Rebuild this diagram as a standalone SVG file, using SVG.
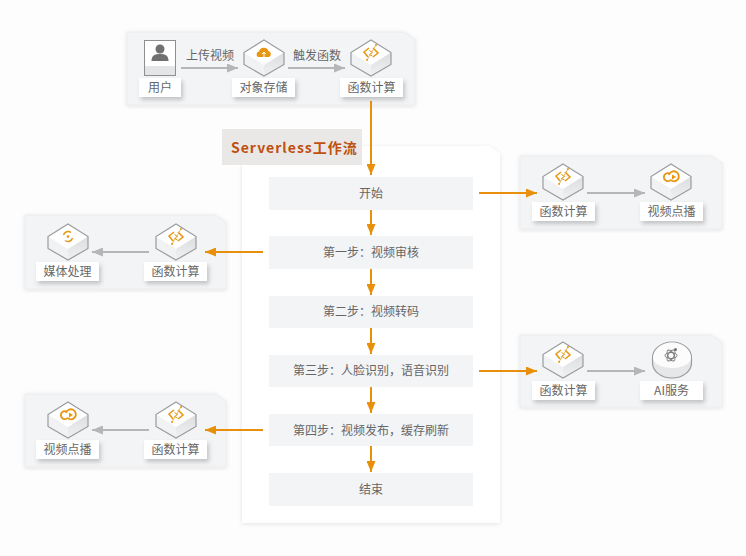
<svg xmlns="http://www.w3.org/2000/svg" xmlns:xlink="http://www.w3.org/1999/xlink" width="746" height="556" viewBox="0 0 746 556">
<style>
text{font-family:"Noto Sans CJK SC","Liberation Sans",sans-serif;font-size:12px;fill:#666;text-anchor:middle}
.panel{fill:#f3f4f6;stroke:#ebecee;stroke-width:1;filter:url(#soft)}
.lab{fill:#fff;filter:url(#sh)}
.step{fill:#f3f4f6}
.gl{stroke:#b4b6b8;stroke-width:2;fill:none;marker-end:url(#ga)}
.ol{stroke:#e8900c;stroke-width:2;fill:none;marker-end:url(#oa)}
.ic{fill:none;stroke:#e8950f;stroke-width:1.500}
.title{font-size:14px;font-weight:700;fill:#c0500f;letter-spacing:1px;text-anchor:start}
</style>
<defs>
<filter id="sh" x="-20%" y="-30%" width="150%" height="190%"><feDropShadow dx="2" dy="3" stdDeviation="2" flood-color="#000" flood-opacity=".2"/></filter>
<filter id="soft" x="-5%" y="-5%" width="110%" height="110%"><feDropShadow dx="0" dy="1" stdDeviation="2" flood-color="#000" flood-opacity=".1"/></filter>
<marker id="ga" markerUnits="userSpaceOnUse" markerWidth="12" markerHeight="9" refX="11" refY="4.500" orient="auto"><path d="M0 0L11 4.500L0 9Z" fill="#b4b6b8"/></marker>
<marker id="oa" markerUnits="userSpaceOnUse" markerWidth="12" markerHeight="9" refX="11" refY="4.500" orient="auto"><path d="M0 0L11 4.500L0 9Z" fill="#e8900c"/></marker>
<linearGradient id="sd" x1="0" y1="0" x2="0" y2="1"><stop offset="0" stop-color="#dcdddf"/><stop offset="1" stop-color="#f0f1f2"/></linearGradient>
<g id="hex">
<path d="M0 0L20 12.500V24.500L0 36L-20 24.500V12.500Z" fill="#fff"/>
<path d="M-20 12.500L0 25V36L-20 24.500Z" fill="#f1f2f3"/>
<path d="M20 12.500L0 25V36L20 24.500Z" fill="url(#sd)"/>
<path d="M0 0L20 12.500V24.500L0 36L-20 24.500V12.500Z" fill="none" stroke="#999b9d" stroke-width="1.200"/>
</g>
<g id="fn" class="ic">
<path d="M-2 8L-7 12L-3 17M2 8L7 13L2 17"/>
<path d="M-1.500 10.500L1.500 12.500L-1.500 14.500L1.500 16" stroke-width="1"/>
<path d="M-4 20L5 5" stroke="#e5b45c" stroke-width="1"/>
<circle cx="5" cy="5" r="1" fill="#e8950f" stroke="none"/>
<circle cx="-4" cy="20" r="1" fill="#e8950f" stroke="none"/>
</g>
<g id="vod" class="ic">
<path d="M-1.500 9.500A4 4 0 1 0 -1 16.500" stroke-width="1.800"/>
<path d="M-2 11A5 5 0 1 1 -1 15.500" stroke-width="1.800"/>
<path d="M1 10.500L5 13L1 15.500Z" fill="#e8950f" stroke="none"/>
</g>
</defs>
<rect width="746" height="556" fill="#fdfdfd"/>

<g id="panel-upload"><path class="panel" d="M127 32H404L415 39V105H127Z"/></g>
<g id="panel-vod-right"><path class="panel" d="M520 156H711L722 163V229H520Z"/></g>
<g id="panel-media"><path class="panel" d="M25 215H215L226 222V289H25Z"/></g>
<g id="panel-ai"><path class="panel" d="M520 335H711L722 342V407H520Z"/></g>
<g id="panel-vod-left"><path class="panel" d="M25 394H215L226 401V467H25Z"/></g>

<g id="workflow">
<path d="M242 146H489L500 153V523H242Z" fill="#fff" filter="url(#soft)"/>
<rect x="222" y="129" width="140" height="36" fill="#e9e8e6"/>
<text class="title" x="231" y="153">Serverless工作流</text>
</g>
<g id="step-start"><rect class="step" x="269" y="177" width="204" height="33"/><text x="371" y="197.500">开始</text></g>
<g id="step-1"><rect class="step" x="269" y="236" width="204" height="33"/><text x="371" y="256.500">第一步：视频审核</text></g>
<g id="step-2"><rect class="step" x="269" y="296" width="204" height="32"/><text x="371" y="316">第二步：视频转码</text></g>
<g id="step-3"><rect class="step" x="269" y="355" width="204" height="32"/><text x="371" y="375">第三步：人脸识别，语音识别</text></g>
<g id="step-4"><rect class="step" x="269" y="414" width="204" height="32"/><text x="371" y="434.500">第四步：视频发布，缓存刷新</text></g>
<g id="step-end"><rect class="step" x="269" y="473" width="204" height="33"/><text x="371" y="494">结束</text></g>

<g id="connectors">
<path class="gl" d="M181 68H238"/>
<path class="gl" d="M288 68H345"/>
<path class="ol" d="M371 101V175"/>
<path class="ol" d="M371 210V235"/>
<path class="ol" d="M371 269V295"/>
<path class="ol" d="M371 328V354"/>
<path class="ol" d="M371 387V413"/>
<path class="ol" d="M371 446V472"/>
<path class="ol" d="M479 193H537"/>
<path class="gl" d="M587 193H645"/>
<path class="ol" d="M479 371H537"/>
<path class="gl" d="M587 371H645"/>
<path class="ol" d="M263 252H205"/>
<path class="gl" d="M149 252H92"/>
<path class="ol" d="M263 430H205"/>
<path class="gl" d="M149 430H92"/>
</g>
<text x="210" y="60">上传视频</text>
<text x="317" y="60">触发函数</text>

<g id="node-user">
<rect x="144.500" y="40.500" width="31" height="35" fill="#fff" stroke="#8d8f91"/>
<rect x="145" y="66" width="30" height="9" fill="#e4e5e6"/>
<circle cx="160" cy="49" r="4.500" fill="#6f7072"/>
<path d="M151.500 61C151.500 55 155 54 160 54S168.500 55 168.500 61Z" fill="#6f7072"/>
<rect class="lab" x="139" y="78" width="42" height="19"/><text x="160" y="92">用户</text>
</g>
<g id="node-storage">
<use href="#hex" x="264" y="40"/>
<path d="M258 57A3 3 0 0 1 259 51.500A5 5 0 0 1 268.500 51A3.200 3.200 0 0 1 269 57Z" fill="#e8950f"/>
<path d="M264 57V52M262 54L264 52L266 54" fill="none" stroke="#fff"/>
<rect class="lab" x="232" y="78" width="63" height="19"/><text x="263.500" y="92">对象存储</text>
</g>
<g id="node-fc-top">
<use href="#hex" x="371" y="40"/><use href="#fn" x="371" y="40"/>
<rect class="lab" x="340" y="78" width="63" height="19"/><text x="371.500" y="92">函数计算</text>
</g>
<g id="node-fc-r1">
<use href="#hex" x="563" y="164"/><use href="#fn" x="563" y="164"/>
<rect class="lab" x="532" y="202" width="63" height="19"/><text x="563.500" y="216">函数计算</text>
</g>
<g id="node-vod-r">
<use href="#hex" x="671" y="164"/><use href="#vod" x="671" y="164"/>
<rect class="lab" x="640" y="202" width="63" height="19"/><text x="671.500" y="216">视频点播</text>
</g>
<g id="node-fc-r2">
<use href="#hex" x="563" y="342"/><use href="#fn" x="563" y="342"/>
<rect class="lab" x="532" y="381" width="63" height="19"/><text x="563.500" y="395">函数计算</text>
</g>
<g id="node-ai">
<path d="M652.500 358A19.500 16 0 0 1 691.500 358V363A19.500 15 0 0 1 652.500 363Z" fill="#e6e7e8" stroke="#999b9d" stroke-width="1.200"/>
<path d="M653 358A19 15.500 0 0 1 691 358A19 10 0 0 1 653 358Z" fill="#fcfcfc"/>
<g fill="none" stroke="#77797b" stroke-width="1"><ellipse cx="671" cy="355.500" rx="6" ry="3"/><ellipse cx="671" cy="355.500" rx="6" ry="3" transform="rotate(60 671 355.500)"/><ellipse cx="671" cy="355.500" rx="6" ry="3" transform="rotate(120 671 355.500)"/></g>
<circle cx="675.500" cy="349.500" r="1.500" fill="#6f7072"/>
<rect class="lab" x="640" y="381" width="63" height="19"/><text x="671.500" y="395">AI服务</text>
</g>
<g id="node-media">
<use href="#hex" x="68" y="224"/>
<g class="ic" stroke-width="1"><path d="M63.500 235A4.800 4.800 0 0 1 71 232.500M72.500 238A4.800 4.800 0 0 1 65 240.500"/><circle cx="68" cy="236.500" r="1.300" fill="#e8950f" stroke="none"/></g>
<rect class="lab" x="36" y="262" width="63" height="19"/><text x="67.500" y="276">媒体处理</text>
</g>
<g id="node-fc-l1">
<use href="#hex" x="176" y="224"/><use href="#fn" x="176" y="224"/>
<rect class="lab" x="144" y="262" width="63" height="19"/><text x="175.500" y="276">函数计算</text>
</g>
<g id="node-vod-l">
<use href="#hex" x="68" y="402"/><use href="#vod" x="68" y="402"/>
<rect class="lab" x="36" y="440" width="63" height="19"/><text x="67.500" y="454">视频点播</text>
</g>
<g id="node-fc-l2">
<use href="#hex" x="176" y="402"/><use href="#fn" x="176" y="402"/>
<rect class="lab" x="144" y="440" width="63" height="19"/><text x="175.500" y="454">函数计算</text>
</g>
</svg>
